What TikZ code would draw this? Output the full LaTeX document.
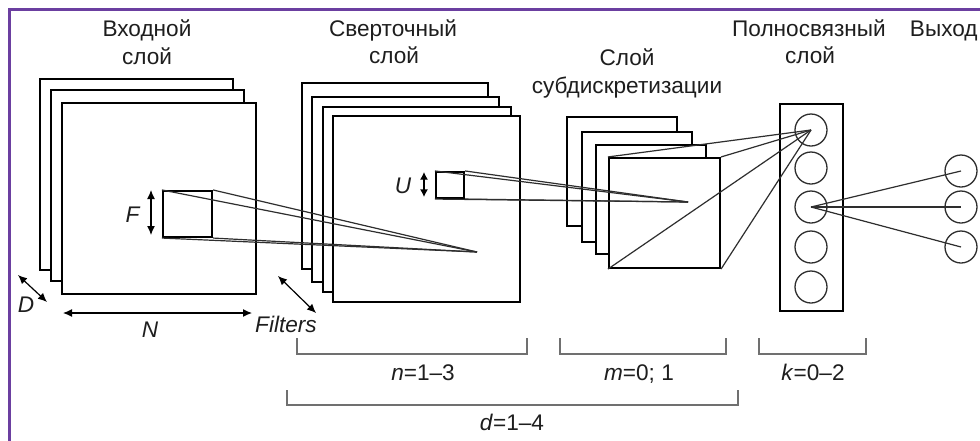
\documentclass[tikz,border=0pt]{standalone}
\usepackage{fontspec}
\setmainfont{Liberation Sans}
\usetikzlibrary{arrows.meta,fit}
\definecolor{framepurple}{HTML}{6B3FA0}
\definecolor{brk}{HTML}{707070}
\definecolor{ln}{HTML}{2E2E2E}
\definecolor{txt}{HTML}{1E1E1E}
\begin{document}
\begin{tikzpicture}[x=0.5pt,y=-0.5pt,
  sheet/.style={draw=black,fill=white,line width=1.05pt,inner sep=0pt},
  neuron/.style={circle,draw=ln,line width=0.65pt,minimum size=16pt,inner sep=0pt},
  link/.style={draw=ln,line width=0.6pt},
  title/.style={font=\fontsize{11.3}{14}\selectfont,text=txt,anchor=base,inner sep=0pt},
  lbl/.style={font=\fontsize{11.3}{14}\selectfont,text=txt,anchor=base,inner sep=0pt},
  dimarrow/.style={line width=0.6pt,{Latex[length=4.5pt,width=4pt]}-{Latex[length=4.5pt,width=4pt]}},
  bracket/.style={draw=brk,line width=0.75pt}
]
\useasboundingbox (0,0) rectangle (980,440);
\fill[white] (0,0) rectangle (980,440);
\draw[framepurple,line width=1.5pt] (9,445) -- (9,9) -- (985,9);

% titles
\node[title] (t1a) at (147,36) {Входной};
\node[title] (t1b) at (147,64) {слой};
\node[title] (t2a) at (393,36) {Сверточный};
\node[title] (t2b) at (394,63) {слой};
\node[title] (t3a) at (627,65) {Слой};
\node[title] (t3b) at (627,93) {субдискретизации};
\node[title] (t4a) at (809,36) {Полносвязный};
\node[title] (t4b) at (810,63) {слой};
\node[title,anchor=base east] (t5) at (978,36) {Выход};

% input layer
\node[sheet,fit={(40,79) (233,270)}] (in1) {};
\node[sheet,fit={(51,90) (244,281)}] (in2) {};
\node[sheet,fit={(62,103) (256,294)}] (in3) {};
\node[sheet,fit={(163,191) (212,237)}] (fsq) {};

% convolution layer
\node[sheet,fit={(302,83) (488,269)}] (cv1) {};
\node[sheet,fit={(312,97) (499,282)}] (cv2) {};
\node[sheet,fit={(323,107) (511,292)}] (cv3) {};
\node[sheet,fit={(333,116) (520,302)}] (cv4) {};
\node[sheet,fit={(436,172) (464,198)}] (usq) {};
\coordinate (cfoc) at (477,252);

% pooling layer
\node[sheet,fit={(567,117) (677,226)}] (pl1) {};
\node[sheet,fit={(582,132) (692,242)}] (pl2) {};
\node[sheet,fit={(596,145) (706,254)}] (pl3) {};
\node[sheet,fit={(609,158) (720,268)}] (pl4) {};
\coordinate (pfoc) at (688,202);

% fully connected layer
\node[sheet,fill=none,fit={(780,104) (843,311)}] (fcbox) {};
\node[neuron] (fc1) at (811,130) {};
\node[neuron] (fc2) at (811,168) {};
\node[neuron] (fc3) at (811,207) {};
\node[neuron] (fc4) at (811,247) {};
\node[neuron] (fc5) at (811,287) {};

% output layer
\node[neuron] (o1) at (961,171) {};
\node[neuron] (o2) at (961,207) {};
\node[neuron] (o3) at (961,247) {};

% connections
\foreach \c in {north west,north east,south west,south east}{
  \draw[link] (fsq.\c) -- (cfoc);
  \draw[link] (usq.\c) -- (pfoc);
  \draw[link] (pl4.\c) -- (fc1.center);
}
\foreach \o in {o1,o2,o3}{
  \draw[link] (fc3.center) -- (\o.center);
}

% dimension arrows
\coordinate (fa1) at (151,190); \coordinate (fa2) at (151,235);
\draw[dimarrow] (fa1) -- (fa2);
\node[lbl] (lF) at (133,222) {\textit{F}};
\coordinate (ua1) at (424,172); \coordinate (ua2) at (424,197);
\draw[line width=0.6pt,{Latex[length=3.8pt,width=4pt]}-{Latex[length=3.8pt,width=4pt]}] (ua1) -- (ua2);
\node[lbl] (lU) at (403,193) {\textit{U}};
\coordinate (da1) at (18,275); \coordinate (da2) at (47,302);
\draw[dimarrow] (da1) -- (da2);
\node[lbl] (lD) at (26,312) {\textit{D}};
\coordinate (na1) at (63,313); \coordinate (na2) at (252,313);
\draw[dimarrow] (na1) -- (na2);
\node[lbl] (lN) at (150,337) {\textit{N}};
\coordinate (ra1) at (278,276); \coordinate (ra2) at (316,313);
\draw[dimarrow] (ra1) -- (ra2);
\node[lbl] (lFil) at (286,332) {\textit{Filters}};

% brackets
\draw[bracket] (297,338) -- (297,354) -- (527,354) -- (527,338);
\node[lbl] (ln) at (423,380) {\textit{n}=1–3};
\draw[bracket] (560,338) -- (560,354) -- (726,354) -- (726,338);
\node[lbl] (lm) at (639,380) {\textit{m}=0; 1};
\draw[bracket] (759,338) -- (759,354) -- (866,354) -- (866,338);
\node[lbl] (lk) at (813,380) {\textit{k}=0–2};
\draw[bracket] (287,390) -- (287,405) -- (738,405) -- (738,390);
\node[lbl] (ld) at (512,430) {\textit{d}=1–4};
\end{tikzpicture}
\end{document}
